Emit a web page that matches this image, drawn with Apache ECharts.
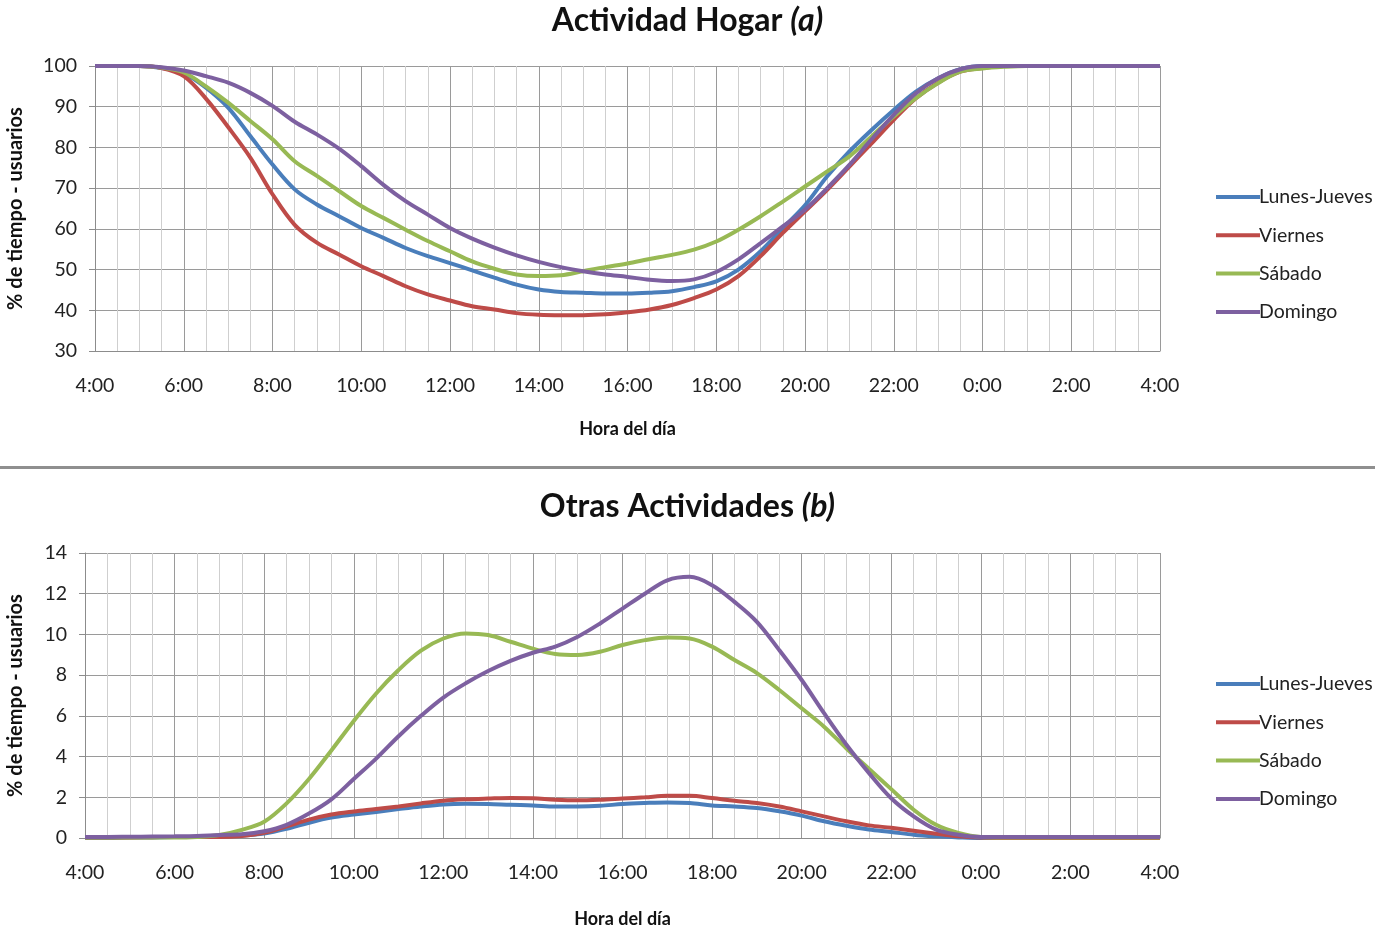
<!DOCTYPE html>
<html>
<head>
<meta charset="utf-8">
<title>Actividad Hogar / Otras Actividades</title>
<script src="https://cdn.jsdelivr.net/npm/echarts@6/dist/echarts.min.js"></script>
<style>
  html, body { margin: 0; padding: 0; background: #fff; }
  #chart { width: 1375px; height: 929px; }
</style>
</head>
<body>
<div id="chart"></div>
<script>
// horas del día (4:00 -> 4:00 del día siguiente), cada media hora
const hours = [];
for (let h = 4; h <= 28; h += 0.5) hours.push(h);
const tickLabels = ['4:00', '6:00', '8:00', '10:00', '12:00', '14:00', '16:00', '18:00', '20:00', '22:00', '0:00', '2:00', '4:00'];
const seriesNames = ['Lunes-Jueves', 'Viernes', 'Sábado', 'Domingo'];

// (a) Actividad Hogar
const hogarLunesJueves = [100, 100, 100, 99.5, 98.2, 94.7, 89.8, 82.8, 75.8, 69.7, 66, 63.1, 60.2, 57.8, 55.3, 53.3, 51.6, 49.8, 48, 46.3, 45.1, 44.5, 44.3, 44.1, 44.1, 44.3, 44.7, 45.7, 47.1, 50, 54.5, 60.2, 65.8, 72.9, 79, 84.3, 89.2, 93.7, 97, 99.2, 100, 100, 100, 100, 100, 100, 100, 100, 100];
const hogarViernes = [100, 100, 100, 99.5, 97.5, 92, 85, 77.5, 68.5, 61, 56.6, 53.7, 50.8, 48.4, 45.9, 43.9, 42.4, 41, 40.2, 39.3, 38.9, 38.8, 38.8, 39, 39.5, 40.2, 41.3, 43, 45.1, 48.4, 53.3, 59, 64.3, 69.6, 75.3, 81, 86.8, 92.1, 95.9, 98.6, 99.5, 100, 100, 100, 100, 100, 100, 100, 100];
const hogarSabado = [100, 100, 100, 99.6, 98.4, 95, 91, 86.5, 82, 76.6, 73, 69.3, 65.6, 62.7, 59.8, 57, 54.5, 52, 50.2, 48.8, 48.4, 48.6, 49.6, 50.6, 51.5, 52.6, 53.6, 54.9, 56.9, 59.8, 63.1, 66.7, 70.4, 74.1, 77.8, 82.7, 87.6, 92.1, 95.8, 98.6, 99.4, 99.8, 100, 100, 100, 100, 100, 100, 100];
const hogarDomingo = [100, 100, 100, 99.7, 98.9, 97.5, 95.9, 93.4, 90.2, 86.3, 83.2, 79.7, 75.4, 70.8, 66.8, 63.5, 60.2, 57.6, 55.4, 53.5, 51.9, 50.6, 49.6, 48.8, 48.2, 47.5, 47.2, 47.6, 49.4, 52.5, 56.5, 60.6, 64.7, 70, 75.7, 82, 88, 93.3, 97, 99.2, 100, 100, 100, 100, 100, 100, 100, 100, 100];

// (b) Otras Actividades
const otrasLunesJueves = [0, 0, 0.02, 0.03, 0.05, 0.06, 0.08, 0.12, 0.22, 0.45, 0.75, 1.0, 1.15, 1.28, 1.42, 1.55, 1.65, 1.68, 1.67, 1.63, 1.6, 1.55, 1.55, 1.58, 1.67, 1.72, 1.75, 1.72, 1.6, 1.55, 1.47, 1.31, 1.1, 0.82, 0.6, 0.42, 0.3, 0.16, 0.08, 0.03, 0, 0, 0, 0, 0, 0, 0, 0, 0];
const otrasViernes = [0.03, 0.03, 0.03, 0.04, 0.05, 0.05, 0.05, 0.1, 0.25, 0.57, 0.9, 1.15, 1.3, 1.42, 1.55, 1.7, 1.83, 1.9, 1.94, 1.97, 1.95, 1.88, 1.85, 1.88, 1.94, 2.0, 2.07, 2.07, 1.96, 1.83, 1.72, 1.55, 1.31, 1.06, 0.82, 0.62, 0.5, 0.36, 0.21, 0.08, 0.02, 0, 0, 0, 0, 0, 0, 0, 0];
const otrasSabado = [0.02, 0.02, 0.02, 0.02, 0.02, 0.05, 0.15, 0.4, 0.8, 1.7, 2.9, 4.3, 5.75, 7.1, 8.25, 9.2, 9.8, 10.05, 9.97, 9.64, 9.3, 9.04, 8.99, 9.15, 9.48, 9.72, 9.85, 9.8, 9.4, 8.74, 8.1, 7.27, 6.37, 5.47, 4.4, 3.4, 2.4, 1.39, 0.65, 0.25, 0.05, 0.03, 0.03, 0.03, 0.03, 0.03, 0.03, 0.03, 0.03];
const otrasDomingo = [0.05, 0.05, 0.06, 0.07, 0.08, 0.1, 0.15, 0.18, 0.33, 0.65, 1.2, 1.9, 2.9, 3.9, 5.0, 6.0, 6.9, 7.6, 8.2, 8.7, 9.1, 9.4, 9.89, 10.54, 11.27, 12.0, 12.66, 12.83, 12.42, 11.6, 10.62, 9.23, 7.76, 6.13, 4.58, 3.2, 1.95, 1.06, 0.41, 0.16, 0.05, 0.05, 0.05, 0.05, 0.05, 0.05, 0.05, 0.05, 0.05];

const colors = ['#4a7ebb', '#be4b48', '#98b954', '#7d60a0'];
const fontFamily = 'Lato, "Open Sans", sans-serif';

const chart = echarts.init(document.getElementById('chart'));

// empareja horas con valores
function toPoints(values) {
    return hours.map((h, i) => [h, values[i]]);
}

function makeXAxis(gridIndex, nameGap) {
    return {
        type: 'value',
        gridIndex: gridIndex,
        min: 4,
        max: 28,
        interval: 2,
        name: 'Hora del día',
        nameLocation: 'middle',
        nameGap: nameGap,
        nameTextStyle: { fontFamily: fontFamily, fontWeight: 'bold', fontSize: 18, color: '#111' },
        axisLine: { show: true, lineStyle: { color: '#8c8c8c', width: 1 } },
        axisTick: { show: false },
        axisLabel: {
            margin: 25,
            fontFamily: fontFamily,
            fontSize: 19.5,
            color: '#222',
            formatter: v => tickLabels[Math.round((v - 4) / 2)]
        },
        splitLine: { show: true, lineStyle: { color: '#9a9a9a', width: 1 } },
        minorTick: { show: false, splitNumber: 4 },
        minorSplitLine: { show: true, lineStyle: { color: '#cfcfcf', width: 1 } }
    };
}

function makeYAxis(gridIndex, min, max, interval, nameGap) {
    return {
        type: 'value',
        gridIndex: gridIndex,
        min: min,
        max: max,
        interval: interval,
        name: '% de tiempo - usuarios',
        nameLocation: 'middle',
        nameRotate: 90,
        nameGap: nameGap,
        nameTextStyle: { fontFamily: fontFamily, fontWeight: 'bold', fontSize: 20, color: '#111' },
        axisLine: { show: true, lineStyle: { color: '#8c8c8c', width: 1 } },
        axisTick: { show: true, length: 6, lineStyle: { color: '#8c8c8c' } },
        axisLabel: { margin: 18, fontFamily: fontFamily, fontSize: 19.5, color: '#222' },
        splitLine: { show: true, lineStyle: { color: '#9a9a9a', width: 1 } }
    };
}

function makeSeries(gridIndex, dataSets) {
    return dataSets.map((values, i) => ({
        name: seriesNames[i],
        type: 'line',
        xAxisIndex: gridIndex,
        yAxisIndex: gridIndex,
        smooth: 0.35,
        symbol: 'none',
        data: toPoints(values),
        lineStyle: { color: colors[i], width: 4 },
        itemStyle: { color: colors[i] },
        z: 2 + i
    }));
}

function makeLegend(top) {
    return {
        orient: 'vertical',
        left: 1211,
        top: top,
        data: seriesNames,
        icon: 'rect',
        itemWidth: 44,
        itemHeight: 4,
        itemGap: 18.3,
        selectedMode: false,
        textStyle: { fontFamily: fontFamily, fontSize: 19.5, color: '#222', padding: [0, 0, 0, -6] }
    };
}

function makeTitle(main, tag, top) {
    return {
        text: '{m|' + main + ' }{i|' + tag + '}',
        left: 'center',
        top: top,
        textStyle: {
            rich: {
                m: { fontFamily: fontFamily, fontWeight: 'bold', fontSize: 32, color: '#111' },
                i: { fontFamily: fontFamily, fontWeight: 'bold', fontStyle: 'italic', fontSize: 32, color: '#111' }
            }
        }
    };
}

const option = {
    animation: false,
    backgroundColor: '#ffffff',
    color: colors,
    title: [
        makeTitle('Actividad Hogar', '(a)', 0),
        makeTitle('Otras Actividades', '(b)', 486)
    ],
    legend: [makeLegend(182), makeLegend(669)],
    grid: [
        { left: 95, right: 215, top: 66, height: 285, outerBoundsMode: 'none' },
        { left: 85, right: 215, top: 553, height: 285, outerBoundsMode: 'none' }
    ],
    xAxis: [makeXAxis(0, 69), makeXAxis(1, 72)],
    yAxis: [makeYAxis(0, 30, 100, 10, 69), makeYAxis(1, 0, 14, 2, 59)],
    series: makeSeries(0, [hogarLunesJueves, hogarViernes, hogarSabado, hogarDomingo])
        .concat(makeSeries(1, [otrasLunesJueves, otrasViernes, otrasSabado, otrasDomingo])),
    graphic: [
        {
            type: 'rect',
            shape: { x: 0, y: 466, width: 1375, height: 3 },
            style: { fill: '#8f8f8f' }
        }
    ]
};

chart.setOption(option);
</script>
</body>
</html>
